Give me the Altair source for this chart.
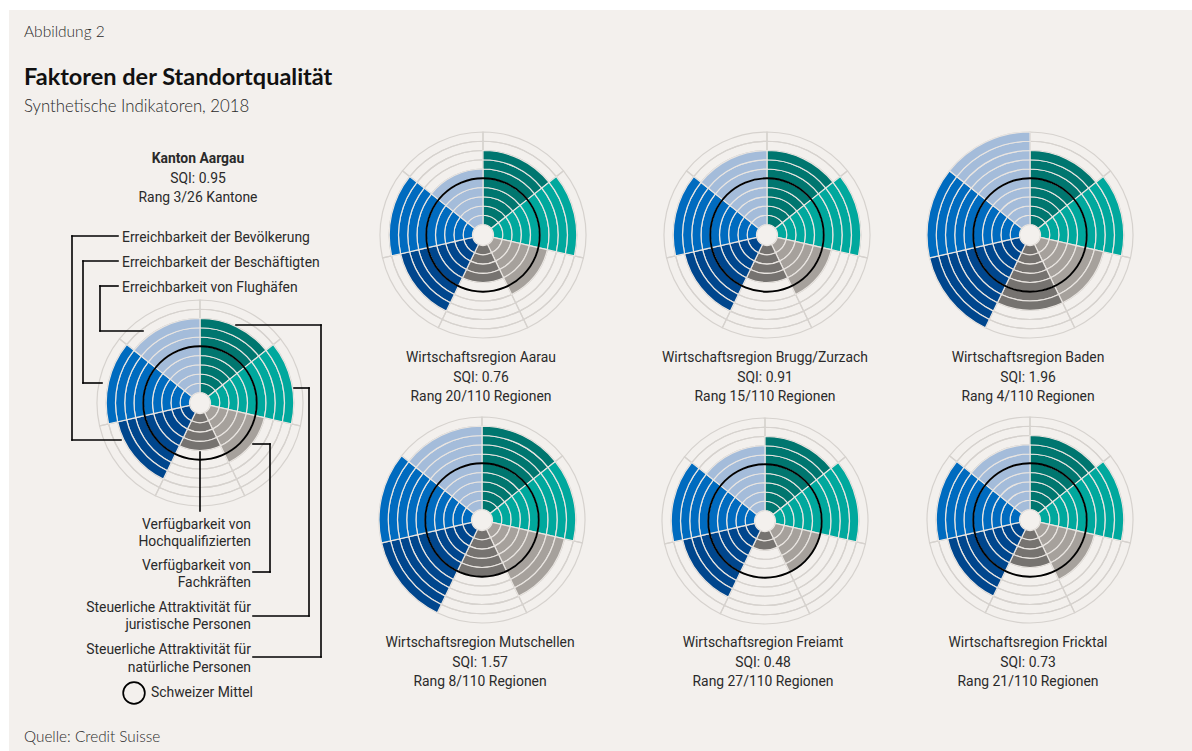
import math
import altair as alt
import pandas as pd

# ---------------- data ----------------
factors = [
    "Steuerliche Attraktivität für natürliche Personen",
    "Steuerliche Attraktivität für juristische Personen",
    "Verfügbarkeit von Fachkräften",
    "Verfügbarkeit von Hochqualifizierten",
    "Erreichbarkeit der Bevölkerung",
    "Erreichbarkeit der Beschäftigten",
    "Erreichbarkeit von Flughäfen",
]
factor_colors = ["#00766f", "#00a89d", "#a6a19c", "#767370", "#00468d", "#006bbf", "#a4bcda"]

regions = [
    "Kanton Aargau",
    "Wirtschaftsregion Aarau",
    "Wirtschaftsregion Brugg/Zurzach",
    "Wirtschaftsregion Baden",
    "Wirtschaftsregion Mutschellen",
    "Wirtschaftsregion Freiamt",
    "Wirtschaftsregion Fricktal",
]
sqi = ["0.95", "0.76", "0.91", "1.96", "1.57", "0.48", "0.73"]
rank = [
    "Rang 3/26 Kantone",
    "Rang 20/110 Regionen",
    "Rang 15/110 Regionen",
    "Rang 4/110 Regionen",
    "Rang 8/110 Regionen",
    "Rang 27/110 Regionen",
    "Rang 21/110 Regionen",
]

# ring scores (0-10) per factor, in factor order
aargau = [8, 9, 6, 4, 8, 9, 8]
aarau = [8, 9, 6, 4, 8, 9, 6]
brugg_zurzach = [8, 9, 6, 4, 8, 9, 8]
baden = [8, 9, 7, 7, 10, 10, 10]
mutschellen = [9, 9, 8, 5, 10, 10, 9]
freiamt = [8, 9, 5, 2, 8, 9, 7]
fricktal = [8, 9, 6, 4, 8, 9, 7]
swiss_mean = 5
max_rings = 10

scores = [aargau, aarau, brugg_zurzach, baden, mutschellen, freiamt, fricktal]

# ---------------- layout ----------------
W, H = 1192, 751
centers = [(200, 403), (483, 235), (767, 235), (1030, 235), (482, 520), (765, 521), (1030, 520)]
label_y = {0: (163, 183, 202), 1: (362, 382, 401), 2: (647, 667, 686)}
BG = "#f3f0ed"
FONT = "Roboto"
TCOL = "#2a2a2a"
TSIZE = 13.9

theta_scale = alt.Scale(domain=[0, len(factors)], range=[0, 2 * math.pi])
rad_scale = alt.Scale(type="linear", domain=[0, max_rings], range=[10.5, 103], zero=False)

band_rows, grid_rows, mean_rows = [], [], []
for p, vals in enumerate(scores):
    cx, cy = centers[p]
    for i, v in enumerate(vals):
        for k in range(max_rings):
            grid_rows.append(dict(cx=cx, cy=cy, t0=i, t1=i + 1, r0=k, r1=k + 1))
        for k in range(v):
            band_rows.append(dict(cx=cx, cy=cy, t0=i, t1=i + 1, r0=k, r1=k + 1, factor=factors[i]))
    mean_rows.append(dict(cx=cx, cy=cy, t0=0, t1=len(factors), r0=swiss_mean - 0.1, r1=swiss_mean + 0.1))

bands = pd.DataFrame(band_rows)
grid = pd.DataFrame(grid_rows)
means = pd.DataFrame(mean_rows)


def arc_enc():
    return dict(
        x=alt.X("cx:Q", scale=None, axis=None),
        y=alt.Y("cy:Q", scale=None, axis=None),
        theta=alt.Theta("t0:Q", scale=theta_scale),
        theta2=alt.Theta2("t1:Q"),
        radius=alt.Radius("r1:Q", scale=rad_scale),
        radius2=alt.Radius2("r0:Q"),
    )


bg = alt.Chart(pd.DataFrame({"a": [0]})).mark_rect(color=BG).encode(
    x=alt.value(9), x2=alt.value(W), y=alt.value(10), y2=alt.value(H)
)

grid_layer = alt.Chart(grid).mark_arc(fillOpacity=0, stroke="#d6d2ce", strokeWidth=1.2).encode(**arc_enc())

band_layer = alt.Chart(bands).mark_arc(stroke="#e9e5e1", strokeWidth=1.2).encode(
    color=alt.Color("factor:N", scale=alt.Scale(domain=factors, range=factor_colors), legend=None),
    **arc_enc(),
)

mean_layer = alt.Chart(means).mark_arc(color="black").encode(**arc_enc())

legend_circle = alt.Chart(pd.DataFrame({"a": [0]})).mark_point(
    shape="circle", size=470, filled=False, color="black", strokeWidth=1.7, opacity=1
).encode(x=alt.value(134), y=alt.value(693))

# leader lines
segments = pd.DataFrame(
    [
        (72, 236, 118, 236), (72, 236, 72, 440), (72, 440, 121, 440),
        (83, 261, 118, 261), (83, 261, 83, 383), (83, 383, 102, 383),
        (100, 286, 118, 286), (100, 286, 100, 331), (100, 331, 143, 331),
        (236, 325, 321, 325), (321, 325, 321, 657), (321, 657, 253, 657),
        (294, 388, 309, 388), (309, 388, 309, 616), (309, 616, 253, 616),
        (253, 444, 270, 444), (270, 444, 270, 572), (270, 572, 253, 572),
        (200, 452, 200, 511),
    ],
    columns=["x1", "y1", "x2", "y2"],
)
rules = alt.Chart(segments).mark_rule(color="black", strokeWidth=1.6, strokeCap="square").encode(
    x=alt.X("x1:Q", scale=None, axis=None),
    y=alt.Y("y1:Q", scale=None, axis=None),
    x2="x2:Q",
    y2="y2:Q",
)


def text_layer(rows, align="center", size=TSIZE, weight="normal", font=FONT, color=TCOL):
    df = pd.DataFrame(rows, columns=["text", "x", "y"])
    return alt.Chart(df).mark_text(
        align=align, baseline="alphabetic", fontSize=size, fontWeight=weight, font=font, color=color
    ).encode(
        x=alt.X("x:Q", scale=None, axis=None),
        y=alt.Y("y:Q", scale=None, axis=None),
        text="text:N",
    )


# panel labels
head_rows, label_rows = [], []
for p in range(len(regions)):
    cx, cy = centers[p]
    if p == 0:
        y1, y2, y3 = label_y[0]
        head_rows.append((regions[p], cx - 2, y1))
    else:
        y1, y2, y3 = label_y[1] if p <= 3 else label_y[2]
        label_rows.append((regions[p], cx - 2, y1))
    label_rows.append(("SQI: " + sqi[p], cx - 2, y2))
    label_rows.append((rank[p], cx - 2, y3))

left_legend = [
    (factors[4], 122, 241.5),
    (factors[5], 122, 266.5),
    (factors[6], 122, 291.5),
    ("Schweizer Mittel", 151, 697),
]
right_legend = [
    ("Verfügbarkeit von", 251, 528.5),
    ("Hochqualifizierten", 251, 545.5),
    ("Verfügbarkeit von", 251, 569.5),
    ("Fachkräften", 251, 587),
    ("Steuerliche Attraktivität für", 251, 611.5),
    ("juristische Personen", 251, 628.5),
    ("Steuerliche Attraktivität für", 251, 654),
    ("natürliche Personen", 251, 671.5),
]

texts = [
    text_layer(head_rows, weight="bold"),
    text_layer(label_rows),
    text_layer(left_legend, align="left"),
    text_layer(right_legend, align="right"),
    text_layer([("Abbildung 2", 24, 37)], align="left", size=15.5, weight=300, font="Lato"),
    text_layer([("Faktoren der Standortqualität", 24, 85)], align="left", size=23.5, weight="bold", font="Lato", color="#111"),
    text_layer([("Synthetische Indikatoren, 2018", 24, 111.5)], align="left", size=16.8, weight=300, font="Lato"),
    text_layer([("Quelle: Credit Suisse", 24, 741.5)], align="left", size=15.3, weight=300, font="Lato"),
]

chart = alt.layer(
    bg, grid_layer, band_layer, mean_layer, legend_circle, rules, *texts
).properties(
    width=W, height=H, padding=0, background="white",
    autosize=alt.AutoSizeParams(type="none"),
).configure_view(stroke=None)

chart.save("out.html", embed_options={"renderer": "svg", "actions": False})
